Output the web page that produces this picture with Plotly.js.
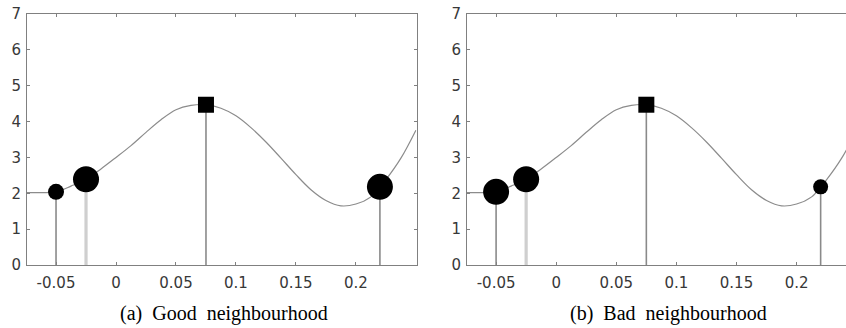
<!DOCTYPE html>
<html>
<head>
<meta charset="utf-8">
<script src="https://cdn.plot.ly/plotly-3.0.1.min.js"></script>
<style>html,body{margin:0;padding:0;background:#fff;}#chart{width:846px;height:328px;}</style>
</head>
<body>
<div id="chart"></div>
<script>
// Curve
const curveX = [-0.075, -0.0625, -0.05, -0.0375, -0.025, -0.0125, 0, 0.0125, 0.025, 0.0375, 0.05, 0.0625, 0.075, 0.0875, 0.1, 0.1125, 0.125, 0.1375, 0.15, 0.1625, 0.175, 0.1875, 0.2, 0.2125, 0.22, 0.225, 0.2375, 0.25];
const curveY = [2.02, 2.02, 2.04, 2.20, 2.39, 2.68, 3.00, 3.33, 3.70, 4.05, 4.33, 4.45, 4.47, 4.37, 4.16, 3.83, 3.43, 2.98, 2.52, 2.10, 1.80, 1.65, 1.70, 1.90, 2.18, 2.38, 2.98, 3.76];

// Sample points (stems)
const pointX = [-0.05, -0.025, 0.075, 0.22];
const pointY = [2.04, 2.39, 4.47, 2.18];
const pointSymbol = ["circle", "circle", "square", "circle"];

// Marker weights per panel
const goodSizes = [16, 26, 16, 26];
const badSizes = [26, 26, 16, 15];

const xTickVals = [-0.05, 0, 0.05, 0.1, 0.15, 0.2];
const xTickText = ["-0.05", "0", "0.05", "0.1", "0.15", "0.2"];
const yTickVals = [0, 1, 2, 3, 4, 5, 6, 7];
const yTickText = ["0", "1", "2", "3", "4", "5", "6", "7"];

const captions = ["(a)\u00a0\u00a0Good\u00a0\u00a0neighbourhood", "(b)\u00a0\u00a0Bad\u00a0\u00a0neighbourhood"];

const stemColor = ["#8a8a8a", "#cfcfcf", "#8a8a8a", "#8a8a8a"];
const stemWidth = [1.6, 3.2, 1.6, 1.6];

const traces = [];
function panel(xa, ya, sizes) {
  traces.push({x: curveX, y: curveY, xaxis: xa, yaxis: ya, mode: 'lines', type: 'scatter',
    line: {color: '#8c8c8c', width: 1.2, shape: 'spline', smoothing: 1}, hoverinfo: 'skip', showlegend: false});
  for (let i = 0; i < pointX.length; i++) {
    traces.push({x: [pointX[i], pointX[i]], y: [0, pointY[i]], xaxis: xa, yaxis: ya, mode: 'lines', type: 'scatter',
      line: {color: stemColor[i], width: stemWidth[i]}, showlegend: false, hoverinfo: 'skip'});
  }
  traces.push({x: pointX, y: pointY, xaxis: xa, yaxis: ya, mode: 'markers', type: 'scatter',
    marker: {color: '#000', opacity: 1, size: sizes, symbol: pointSymbol, line: {width: 0}}, showlegend: false, hoverinfo: 'skip'});
}
panel('x', 'y', goodSizes);
panel('x2', 'y2', badSizes);

const tickFont = {family: 'DejaVu Sans', size: 15, color: '#383838'};
const ydom = [(328 - 265) / 328, (328 - 14) / 328];
function xax(dom, rng, mirror) {
  return {domain: dom, range: rng, showline: true, linecolor: '#808080', linewidth: 1,
    mirror: mirror, ticks: 'inside', ticklen: 3, tickcolor: '#808080', tickwidth: 1,
    tickvals: xTickVals, ticktext: xTickText, tickfont: tickFont, showgrid: false, zeroline: false,
    ticklabelstandoff: 4, fixedrange: true};
}
function yax(mirror) {
  return {domain: ydom, range: [0, 7], showline: true, linecolor: '#808080', linewidth: 1,
    mirror: mirror, ticks: 'inside', ticklen: 3, tickcolor: '#808080', tickwidth: 1,
    tickvals: yTickVals, ticktext: yTickText, tickfont: tickFont, showgrid: false, zeroline: false,
    ticklabelstandoff: 2, fixedrange: true};
}
const layout = {
  width: 846, height: 328,
  margin: {l: 0, r: 0, t: 0, b: 0},
  paper_bgcolor: '#fff', plot_bgcolor: '#fff',
  showlegend: false,
  xaxis: Object.assign(xax([27 / 846, 416.5 / 846], [-0.0742, 0.2505], 'ticks'), {anchor: 'y'}),
  yaxis: Object.assign(yax('ticks'), {anchor: 'x'}),
  xaxis2: Object.assign(xax([467 / 846, 1], [-0.0742, 0.2411], 'ticks'), {anchor: 'y2'}),
  yaxis2: Object.assign(yax(false), {anchor: 'x2'}),
  annotations: [
    {text: captions[0], xref: 'paper', yref: 'paper', x: 224 / 846, y: (328 - 313) / 328, xanchor: 'center', yanchor: 'middle',
      showarrow: false, font: {family: 'Liberation Serif', size: 20, color: '#000'}},
    {text: captions[1], xref: 'paper', yref: 'paper', x: 668 / 846, y: (328 - 313) / 328, xanchor: 'center', yanchor: 'middle',
      showarrow: false, font: {family: 'Liberation Serif', size: 20, color: '#000'}}
  ]
};
Plotly.newPlot('chart', traces, layout, {staticPlot: true, displayModeBar: false});
</script>
</body>
</html>
